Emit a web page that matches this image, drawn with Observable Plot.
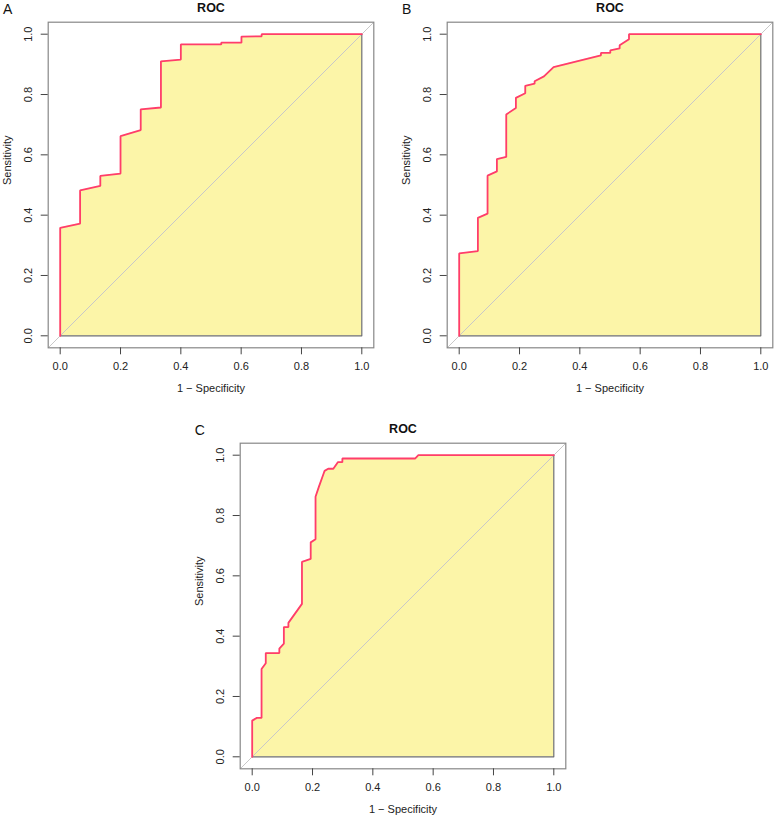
<!DOCTYPE html>
<html>
<head>
<meta charset="utf-8">
<script src="https://cdn.jsdelivr.net/npm/d3@7"></script>
<script src="https://cdn.jsdelivr.net/npm/@observablehq/plot@0.6"></script>
<style>
  html, body { margin: 0; padding: 0; background: #fff; overflow: hidden; }
  body { width: 775px; height: 819px; position: relative; font-family: "Liberation Sans", Arial, sans-serif; }
  .panel { position: absolute; }
  .panel svg { overflow: visible; }
</style>
</head>
<body>
<div id="A" class="panel" style="left:0px;top:0px"></div>
<div id="B" class="panel" style="left:399px;top:0px"></div>
<div id="C" class="panel" style="left:192.3px;top:421px"></div>
<script>
// ROC curve A: 1 - specificity (fpr) and sensitivity (tpr)
const fprA = [0, 0, 0.066, 0.066, 0.133, 0.133, 0.200, 0.200, 0.267, 0.267, 0.334, 0.334, 0.400, 0.400, 0.534, 0.534, 0.601, 0.601, 0.668, 0.668, 1];
const tprA = [0, 0.358, 0.372, 0.482, 0.497, 0.530, 0.538, 0.662, 0.682, 0.751, 0.757, 0.910, 0.916, 0.966, 0.966, 0.972, 0.972, 0.992, 0.993, 1.0, 1.0];

// ROC curve B
const fprB = [0, 0, 0.062, 0.062, 0.094, 0.094, 0.125, 0.125, 0.156, 0.156, 0.188, 0.188, 0.219, 0.219, 0.250, 0.250, 0.281, 0.313, 0.470, 0.470, 0.501, 0.501, 0.532, 0.532, 0.563, 0.563, 1];
const tprB = [0, 0.273, 0.281, 0.391, 0.405, 0.531, 0.545, 0.586, 0.593, 0.734, 0.755, 0.789, 0.804, 0.829, 0.836, 0.844, 0.860, 0.891, 0.930, 0.938, 0.938, 0.946, 0.953, 0.963, 0.983, 1.0, 1.0];

// ROC curve C
const fprC = [0, 0, 0.0155, 0.031, 0.031, 0.045, 0.045, 0.090, 0.090, 0.105, 0.105, 0.120, 0.120, 0.165, 0.165, 0.194, 0.194, 0.210, 0.210, 0.221, 0.236, 0.240, 0.252, 0.269, 0.284, 0.299, 0.299, 0.540, 0.551, 1];
const tprC = [0, 0.120, 0.129, 0.129, 0.291, 0.310, 0.344, 0.344, 0.359, 0.375, 0.430, 0.430, 0.444, 0.507, 0.646, 0.656, 0.711, 0.721, 0.862, 0.895, 0.937, 0.948, 0.955, 0.955, 0.977, 0.977, 0.989, 0.989, 1.0, 1.0];

const tickValues = [0, 0.2, 0.4, 0.6, 0.8, 1.0];
const panelLetters = ["A", "B", "C"];
const panelTitle = "ROC";
const xLabel = "1 \u2212 Specificity";
const yLabel = "Sensitivity";

const curveColor = "#ff3d6b";
const fillColor = "#fcf5a8";
const boxColor = "#888888";
const font = "Liberation Sans, Arial, sans-serif";
const fmt = d3.format(".1f");

function panel(fpr, tpr, letter, width) {
  const pts = fpr.map((x, i) => ({x, y: tpr[i]}));
  const edge = [{x: 0, y: 0}, {x: 1, y: 0}, {x: 1, y: 1}];
  return Plot.plot({
    width: width,
    height: 400,
    marginLeft: 47.7,
    marginRight: width - 47.7 - 325.6,
    marginTop: 21.7,
    marginBottom: 52.7,
    style: {fontFamily: font, fontSize: "11px", color: "#222", background: "transparent"},
    x: {domain: [0, 1], insetLeft: 12, insetRight: 12},
    y: {domain: [0, 1], insetTop: 12, insetBottom: 12},
    marks: [
      Plot.area(pts, {x1: "x", y1: () => 0, y2: "y", fill: fillColor, curve: "linear"}),
      Plot.line(edge, {x: "x", y: "y", stroke: "#6e6e6e", strokeWidth: 1.2}),
      Plot.line([-1, 2], {x: d => d, y: d => d, stroke: "#c8c8c8", strokeWidth: 1, clip: "frame"}),
      Plot.line(pts, {x: "x", y: "y", stroke: curveColor, strokeWidth: 1.8, strokeLinejoin: "miter"}),
      Plot.frame({stroke: boxColor, strokeWidth: 1.2}),
      Plot.axisX({ticks: tickValues, tickFormat: fmt, tickSize: 7, tickPadding: 7, stroke: "#444", fill: "#222", fontSize: 11, label: null}),
      Plot.axisY({ticks: tickValues, tickFormat: fmt, tickSize: 7, tickPadding: 9, tickRotate: -90, stroke: "#444", fill: "#222", fontSize: 11, label: null}),
      Plot.text([xLabel], {frameAnchor: "bottom", dy: 41, text: d => d, fontSize: 11, fill: "#222", lineAnchor: "middle"}),
      Plot.text([yLabel], {frameAnchor: "left", dx: -41, rotate: -90, text: d => d, fontSize: 11, fill: "#222", lineAnchor: "middle"}),
      Plot.text([panelTitle], {frameAnchor: "top", dy: -14, text: d => d, fontSize: 12.5, fontWeight: "bold", fill: "#111", lineAnchor: "middle"}),
      Plot.text([letter], {frameAnchor: "top-left", dx: -40.5, dy: -13, text: d => d, fontSize: 14, fill: "#111", lineAnchor: "middle", textAnchor: "middle"})
    ]
  });
}

document.getElementById("A").append(panel(fprA, tprA, panelLetters[0], 390));
document.getElementById("B").append(panel(fprB, tprB, panelLetters[1], 376));
document.getElementById("C").append(panel(fprC, tprC, panelLetters[2], 390));
</script>
</body>
</html>
